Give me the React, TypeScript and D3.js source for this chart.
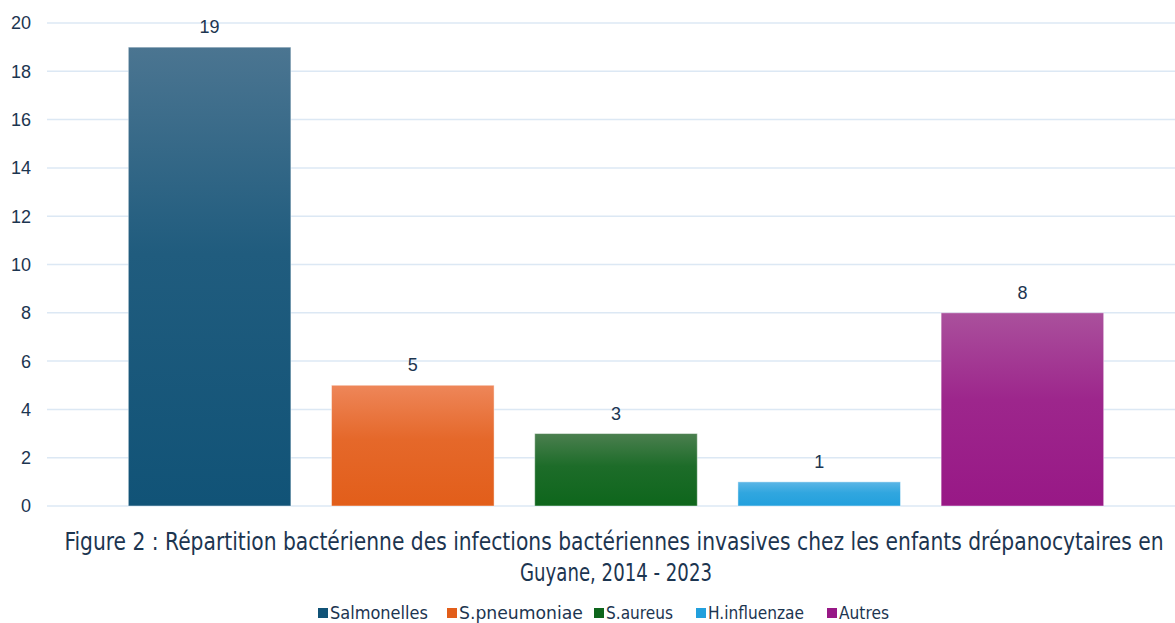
import React, { useEffect, useRef } from 'react';
import * as d3 from 'd3';

const categories = ['Salmonelles', 'S.pneumoniae', 'S.aureus', 'H.influenzae', 'Autres'];
const values = [19, 5, 3, 1, 8];
const yTicks = [0, 2, 4, 6, 8, 10, 12, 14, 16, 18, 20];
// top / bottom of each bar's gradient
const colorsTop = ['#4b7591', '#ee8659', '#4b7f4f', '#5cb6e6', '#aa509c'];
const colorsBottom = ['#115377', '#e25e1a', '#0e661c', '#22a0dd', '#981886'];
const titleLines = [
  'Figure 2 : Répartition bactérienne des infections bactériennes invasives  chez les enfants drépanocytaires en',
  'Guyane, 2014 - 2023',
];

const W = 1175;
const H = 623;
const textColor = '#1c3550';
const condensed = 'DejaVu Sans Condensed, DejaVu Sans, sans-serif';

// draws text squeezed to a given width: smaller font, stretched back vertically
function fitText(parent: d3.Selection<any, any, any, any>, str: string, cx: number, cy: number,
  size: number, width: number, anchor: string) {
  const t = parent.append('text')
    .attr('font-family', condensed).attr('font-size', size)
    .attr('text-anchor', anchor).attr('fill', textColor).text(str);
  const natural = (t.node() as SVGTextElement).getComputedTextLength();
  const f = natural > 0 ? size * width / natural : size;
  t.attr('font-size', f).attr('transform', `translate(${cx},${cy}) scale(1,${size / f})`);
  return t;
}

export default function App() {
  const ref = useRef<SVGSVGElement>(null);

  useEffect(() => {
    const svg = d3.select(ref.current);
    svg.selectAll('*').remove();

    const x = d3.scaleBand().domain(categories).range([108, 1124]).paddingInner(0.2).paddingOuter(0.1);
    const y = d3.scaleLinear().domain([0, 20]).range([506, 23]);

    const defs = svg.append('defs');
    categories.forEach((c, i) => {
      const g = defs.append('linearGradient').attr('id', 'grad' + i)
        .attr('x1', 0).attr('y1', 0).attr('x2', 0).attr('y2', 1);
      g.append('stop').attr('offset', '0%').attr('stop-color', colorsTop[i]);
      g.append('stop').attr('offset', '45%').attr('stop-color', d3.interpolateRgb(colorsTop[i], colorsBottom[i])(0.75));
      g.append('stop').attr('offset', '100%').attr('stop-color', colorsBottom[i]);
    });

    // gridlines
    svg.append('g').selectAll('line').data(yTicks).join('line')
      .attr('x1', 47).attr('x2', W)
      .attr('y1', d => y(d)).attr('y2', d => y(d))
      .attr('stroke', '#dce8f4').attr('stroke-width', 1.5);

    // y labels
    svg.append('g').selectAll('text').data(yTicks).join('text')
      .attr('x', 31).attr('y', d => y(d)).attr('dy', '0.36em')
      .attr('text-anchor', 'end')
      .attr('font-family', 'Liberation Sans, Arial, sans-serif').attr('font-size', 18)
      .attr('fill', textColor)
      .text(d => d);

    // bars
    svg.append('g').selectAll('rect').data(values).join('rect')
      .attr('x', (d, i) => x(categories[i])!)
      .attr('y', d => y(d))
      .attr('width', x.bandwidth())
      .attr('height', d => y(0) - y(d))
      .attr('fill', (d, i) => `url(#grad${i})`)
      .attr('stroke', 'rgba(255,255,255,0.45)').attr('stroke-width', 1);

    // value labels
    svg.append('g').selectAll('text').data(values).join('text')
      .attr('x', (d, i) => x(categories[i])! + x.bandwidth() / 2)
      .attr('y', d => y(d) - 14)
      .attr('text-anchor', 'middle')
      .attr('font-family', 'Liberation Sans, Arial, sans-serif').attr('font-size', 18)
      .attr('fill', textColor)
      .text(d => d);

    // title
    fitText(svg, titleLines[0], 614, 550, 25, 1100, 'middle');
    fitText(svg, titleLines[1], 616, 581, 25, 192, 'middle');

    // legend
    const legendX = [318, 447, 594, 696, 827];
    const legendW = [98, 124, 67, 96, 50];
    const lg = svg.append('g');
    categories.forEach((c, i) => {
      lg.append('rect').attr('x', legendX[i]).attr('y', 608).attr('width', 10).attr('height', 10)
        .attr('fill', colorsBottom[i]);
      fitText(lg, c, legendX[i] + 12, 619, 17, legendW[i], 'start');
    });
  }, []);

  return (
    <svg ref={ref} width={W} height={H} style={{ position: 'absolute', left: 0, top: 0, background: '#fff' }} />
  );
}
